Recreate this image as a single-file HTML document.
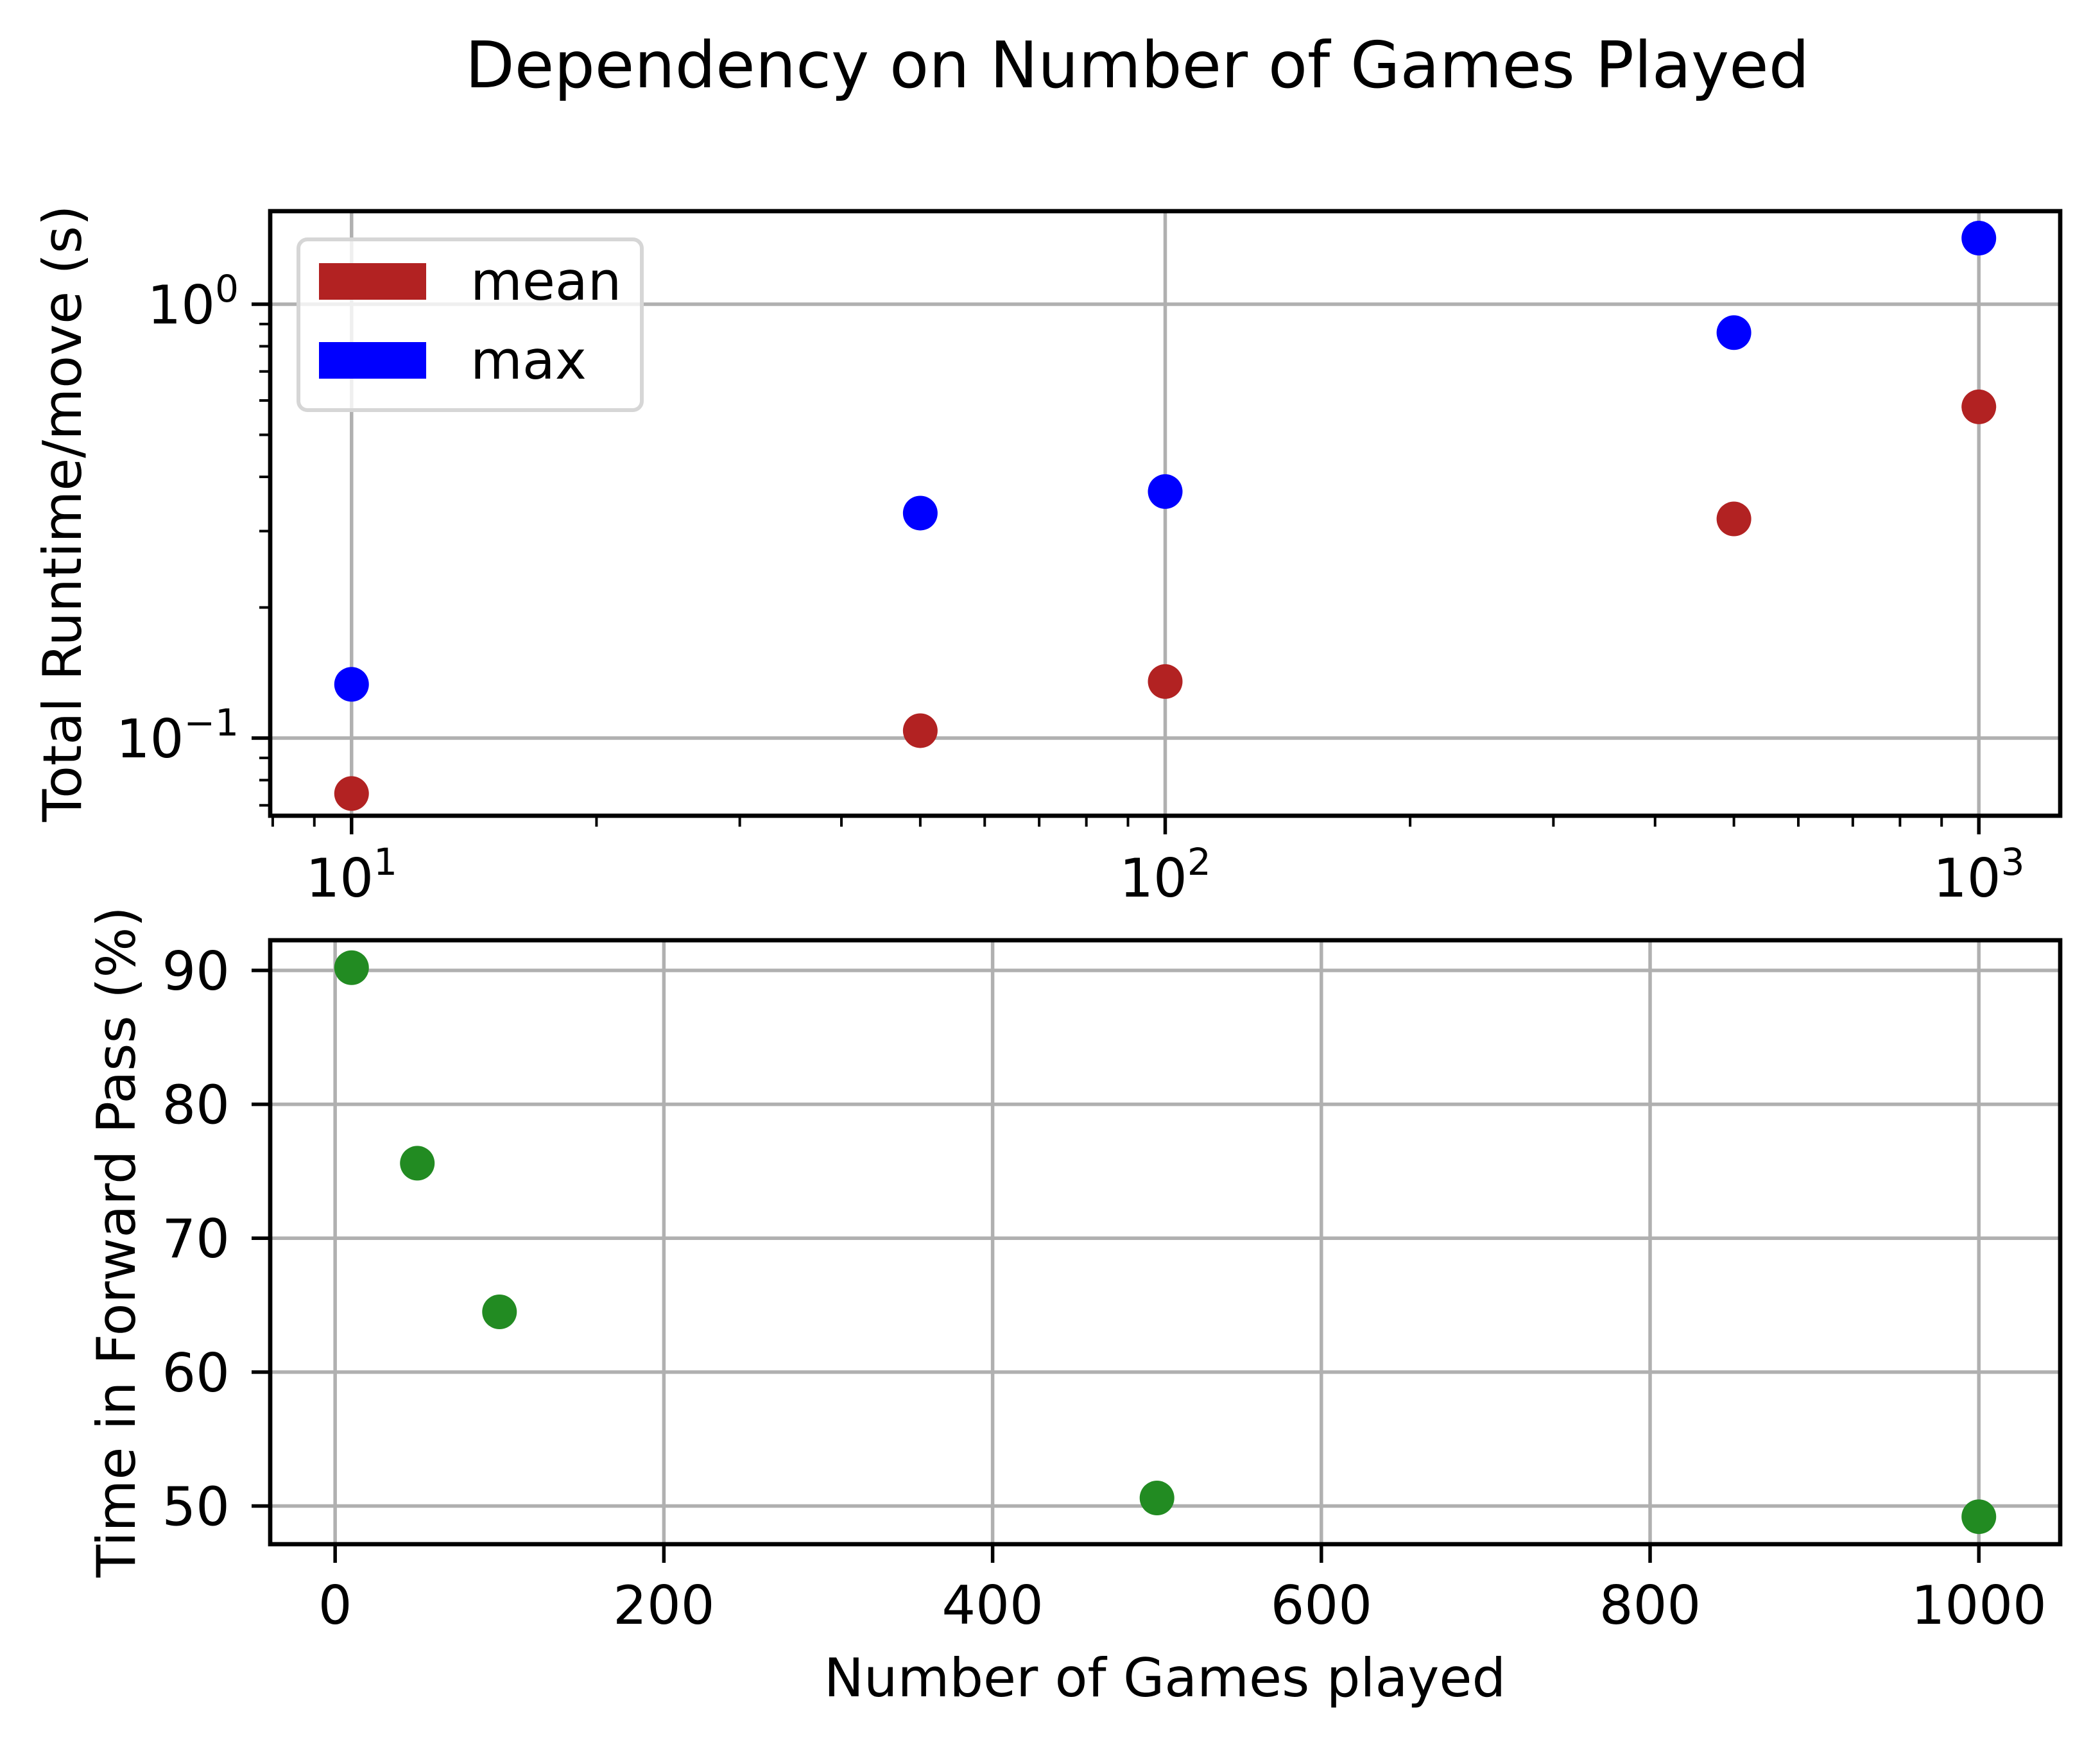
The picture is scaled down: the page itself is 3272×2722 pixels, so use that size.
<!DOCTYPE html>
<html><head><meta charset="utf-8"><style>
html,body{margin:0;padding:0;background:#fff}
svg{display:block;font-family:"DejaVu Sans","Liberation Sans",sans-serif}
</style></head><body>
<svg id="chart" width="3272" height="2722" viewBox="0 0 3272 2722" xmlns="http://www.w3.org/2000/svg">
<rect width="3272" height="2722" fill="#fff"/>
<text x="1772" y="136" font-size="100" text-anchor="middle">Dependency on Number of Games Played</text>
<g id="top"></g><g id="bottom"></g>
</svg>
<script>
const games = [10, 50, 100, 500, 1000];
const meanRuntime = [0.0745, 0.104, 0.135, 0.32, 0.58];
const maxRuntime = [0.133, 0.33, 0.37, 0.86, 1.42];
const forwardPct = [90.2, 75.6, 64.5, 50.6, 49.2];
const topYTicks = [-1, 0];
const topXTicks = [1, 2, 3];
const bottomXTicks = [0, 200, 400, 600, 800, 1000];
const bottomYTicks = [50, 60, 70, 80, 90];

const NS = "http://www.w3.org/2000/svg";
function el(tag, attrs, parent, text) {
  const e = document.createElementNS(NS, tag);
  for (const k in attrs) e.setAttribute(k, attrs[k]);
  if (text !== undefined) e.textContent = text;
  parent.appendChild(e);
  return e;
}
const GRID = "#b0b0b0", SPINE = 6.7, R = 27;

// ---- top axes (log-log)
const T = {l: 421, r: 3210, t: 329, b: 1271};
const topG = document.getElementById('top');
function lg(v){return Math.log10(v);}
const tylo = -1.179, tyhi = 0.2145;
const gx = games.map(lg), txlo = Math.min(...gx) - 0.1, txhi = Math.max(...gx) + 0.1;
const txs = v => T.l + (lg(v) - txlo) / (txhi - txlo) * (T.r - T.l);
const tys = v => T.b - (lg(v) - tylo) / (tyhi - tylo) * (T.b - T.t);

topXTicks.forEach(p => {
  const x = txs(Math.pow(10, p));
  let g = el('line', {x1:x, x2:x, y1:T.t, y2:T.b, stroke:GRID, 'stroke-width':5.5}, topG);
  
  
  let tk = el('line', {x1:x, x2:x, y1:T.b, y2:T.b + 29, stroke:'#000', 'stroke-width':5.5}, topG);
  
  
  let t = el('text', {x:x, y:1397, 'font-size':83, 'text-anchor':'middle'}, topG);
  
  
  el('tspan', {}, t, '10');
  el('tspan', {dy:-34, 'font-size':58}, t, String(p));
});
for (let d = 0; d <= 3; d++) for (let m = 2; m <= 9; m++) {
  const v = m * Math.pow(10, d);
  if (lg(v) < txlo || lg(v) > txhi) continue;
  const x = txs(v);
  let mt = el('line', {x1:x, x2:x, y1:T.b, y2:T.b + 17, stroke:'#000', 'stroke-width':4}, topG);
  
  
}
topYTicks.forEach(p => {
  const y = tys(Math.pow(10, p));
  let g = el('line', {x1:T.l, x2:T.r, y1:y, y2:y, stroke:GRID, 'stroke-width':5.5}, topG);
  
  
  let tk = el('line', {x1:T.l - 29, x2:T.l, y1:y, y2:y, stroke:'#000', 'stroke-width':5.5}, topG);
  
  
  let t = el('text', {x:372, y:y + 30, 'font-size':83, 'text-anchor':'end'}, topG);
  
  
  el('tspan', {}, t, '10');
  el('tspan', {dy:-34, 'font-size':58}, t, p === 0 ? '0' : '\u22121');
});
for (let d = -2; d <= 0; d++) for (let m = 2; m <= 9; m++) {
  const v = m * Math.pow(10, d);
  if (lg(v) < tylo || lg(v) > tyhi) continue;
  const y = tys(v);
  let mt = el('line', {x1:T.l - 17, x2:T.l, y1:y, y2:y, stroke:'#000', 'stroke-width':4}, topG);
  
  
}
games.forEach((g, i) => {
  let c = el('circle', {cx:txs(g), cy:tys(meanRuntime[i]), r:R, fill:'#b22222'}, topG);
  
  
  let c2 = el('circle', {cx:txs(g), cy:tys(maxRuntime[i]), r:R, fill:'#0000ff'}, topG);
  
  
});
let tf = el('rect', {x:T.l, y:T.t, width:T.r - T.l, height:T.b - T.t, fill:'none', stroke:'#000', 'stroke-width':SPINE}, topG);


let tyl = el('text', {x:0, y:0, 'font-size':83, 'text-anchor':'middle', transform:'translate(126,800) rotate(-90)'}, topG, 'Total Runtime/move (s)');


// legend
const lgd = el('g', {}, topG);


el('rect', {x:465, y:373, width:535, height:266, rx:14, fill:'#fff', 'fill-opacity':0.8, stroke:'#d6d6d6', 'stroke-width':6}, lgd);
let le1 = el('rect', {x:497, y:410, width:167, height:57, fill:'#b22222'}, lgd);


let lt1 = el('text', {x:733, y:467, 'font-size':83}, lgd, 'mean');


let le2 = el('rect', {x:497, y:533, width:167, height:57, fill:'#0000ff'}, lgd);


let lt2 = el('text', {x:733, y:590, 'font-size':83}, lgd, 'max');



// ---- bottom axes (linear)
const B = {l: 421, r: 3210, t: 1465, b: 2406};
const botG = document.getElementById('bottom');
const bxMin = Math.min(...games), bxMax = Math.max(...games), bxPad = (bxMax - bxMin) * 0.05;
const bxlo = bxMin - bxPad, bxhi = bxMax + bxPad;
const byMin = Math.min(...forwardPct), byMax = Math.max(...forwardPct), byPad = (byMax - byMin) * 0.05;
const bylo = byMin - byPad, byhi = byMax + byPad;
const bxs = v => B.l + (v - bxlo) / (bxhi - bxlo) * (B.r - B.l);
const bys = v => B.b - (v - bylo) / (byhi - bylo) * (B.b - B.t);
bottomXTicks.forEach(v => {
  const x = bxs(v);
  let g = el('line', {x1:x, x2:x, y1:B.t, y2:B.b, stroke:GRID, 'stroke-width':5.5}, botG);
  
  
  let tk = el('line', {x1:x, x2:x, y1:B.b, y2:B.b + 29, stroke:'#000', 'stroke-width':5.5}, botG);
  
  
  let t = el('text', {x:x, y:2530, 'font-size':83, 'text-anchor':'middle'}, botG, String(v));
  
  
});
bottomYTicks.forEach(v => {
  const y = bys(v);
  let g = el('line', {x1:B.l, x2:B.r, y1:y, y2:y, stroke:GRID, 'stroke-width':5.5}, botG);
  
  
  let tk = el('line', {x1:B.l - 29, x2:B.l, y1:y, y2:y, stroke:'#000', 'stroke-width':5.5}, botG);
  
  
  let t = el('text', {x:358, y:y + 30, 'font-size':83, 'text-anchor':'end'}, botG, String(v));
  
  
});
games.forEach((g, i) => {
  let c = el('circle', {cx:bxs(g), cy:bys(forwardPct[i]), r:R, fill:'#228b22'}, botG);
  
  
});
let bf = el('rect', {x:B.l, y:B.t, width:B.r - B.l, height:B.b - B.t, fill:'none', stroke:'#000', 'stroke-width':SPINE}, botG);


let byl = el('text', {x:0, y:0, 'font-size':83, 'text-anchor':'middle', transform:'translate(210,1935) rotate(-90)'}, botG, 'Time in Forward Pass (%)');


let bxl = el('text', {x:1815, y:2643, 'font-size':83, 'text-anchor':'middle'}, botG, 'Number of Games played');


</script>
</body></html>
